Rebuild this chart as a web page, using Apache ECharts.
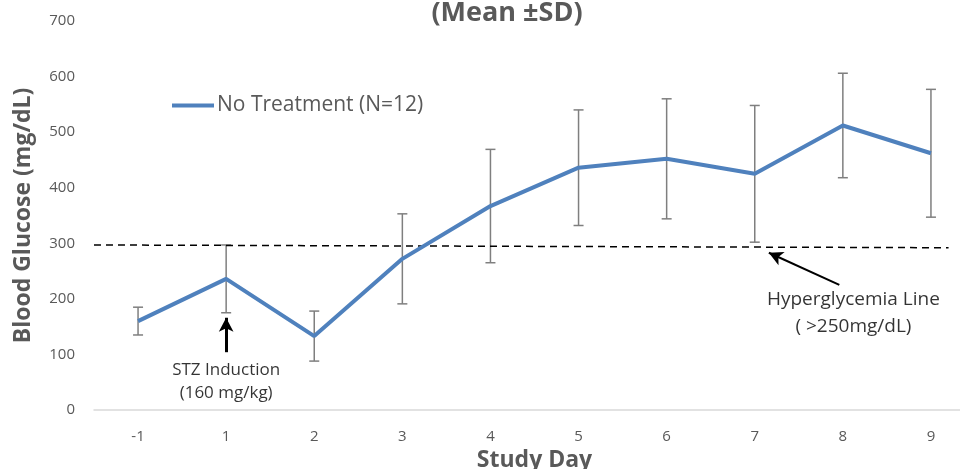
<!DOCTYPE html>
<html>
<head>
<meta charset="utf-8">
<script src="https://cdn.jsdelivr.net/npm/echarts@6/dist/echarts.min.js"></script>
<style>
  html, body { margin: 0; padding: 0; background: #fff; }
  #main { width: 960px; height: 469px; }
</style>
</head>
<body>
<div id="main"></div>
<script>
var dom = document.getElementById('main');
var myChart = echarts.init(dom);

// study days and blood glucose (mean, SD)
var days = ['-1', '1', '2', '3', '4', '5', '6', '7', '8', '9'];
var meanGlucose = [160, 236, 133, 272, 367, 436, 452, 425, 512, 462];
var sdGlucose = [25, 61, 45, 81, 102, 104, 108, 123, 94, 115];

// hyperglycemia reference line (x in category index units)
var threshX = [-0.5, 9.2];
var threshY = [297, 292];

// annotation arrows: [fromX, fromY, toX, toY]
var stzArrow = [1, 104, 1, 166];
var hyperArrow = [7.96, 225, 7.16, 283];
// annotation texts: [x, y]
var stzTextPos = [1, 51];
var hyperTextPos = [8.12, 174];

var fontText = '"Open Sans", sans-serif';

var errData = days.map(function (d, i) {
    return [i, meanGlucose[i] - sdGlucose[i], meanGlucose[i] + sdGlucose[i]];
});

option = {
    animation: false,
    title: {
        text: '(Mean \u00b1SD)',
        left: 502,
        top: -5,
        textAlign: 'center',
        textStyle: {
            fontFamily: fontText,
            fontWeight: 'bold',
            fontSize: 27,
            color: '#595959'
        }
    },
    legend: {
        data: ['No Treatment (N=12)'],
        left: 167,
        top: 90,
        icon: 'rect',
        itemWidth: 42,
        itemHeight: 4,
        itemGap: 3,
        textStyle: {
            fontFamily: fontText,
            fontSize: 21,
            color: '#595959',
            padding: [0, 0, 0, -2]
        }
    },
    grid: {
        left: 94,
        width: 881,
        top: 21,
        height: 389,
        outerBoundsMode: 'none'
    },
    xAxis: [{
        type: 'category',
        data: days,
        boundaryGap: true,
        name: 'Study Day',
        nameLocation: 'middle',
        nameGap: 32,
        nameTextStyle: {
            fontFamily: fontText,
            fontWeight: 'bold',
            fontSize: 23,
            color: '#595959'
        },
        axisLine: { lineStyle: { color: '#d9d9d9', width: 1.5 } },
        axisTick: { show: false },
        axisLabel: {
            margin: 19,
            fontFamily: fontText,
            fontSize: 15,
            color: '#595959'
        }
    }, {
        type: 'value',
        min: -0.5,
        max: 9.5,
        show: false
    }],
    yAxis: {
        type: 'value',
        min: 0,
        max: 700,
        interval: 100,
        name: 'Blood Glucose (mg/dL)',
        nameLocation: 'middle',
        nameGap: 59,
        nameTextStyle: {
            fontFamily: fontText,
            fontWeight: 'bold',
            fontSize: 23,
            color: '#595959'
        },
        axisLine: { show: false },
        axisTick: { show: false },
        splitLine: { show: false },
        axisLabel: {
            margin: 19,
            fontFamily: fontText,
            fontSize: 15,
            color: '#595959'
        }
    },
    series: [
        {
            name: 'SD',
            type: 'custom',
            xAxisIndex: 0,
            z: 1,
            data: errData,
            renderItem: function (params, api) {
                var x = api.value(0);
                var lo = api.coord([x, api.value(1)]);
                var hi = api.coord([x, api.value(2)]);
                var cap = 5;
                var style = { stroke: '#7f7f7f', lineWidth: 1.5 };
                return {
                    type: 'group',
                    children: [
                        { type: 'line', shape: { x1: lo[0], y1: lo[1], x2: hi[0], y2: hi[1] }, style: style },
                        { type: 'line', shape: { x1: lo[0] - cap, y1: lo[1], x2: lo[0] + cap, y2: lo[1] }, style: style },
                        { type: 'line', shape: { x1: hi[0] - cap, y1: hi[1], x2: hi[0] + cap, y2: hi[1] }, style: style }
                    ]
                };
            }
        },
        {
            name: 'No Treatment (N=12)',
            type: 'line',
            xAxisIndex: 0,
            z: 3,
            data: meanGlucose,
            showSymbol: false,
            symbol: 'none',
            itemStyle: { color: '#4f81bd' },
            lineStyle: { color: '#4f81bd', width: 4 }
        },
        {
            name: 'Hyperglycemia',
            type: 'line',
            xAxisIndex: 1,
            z: 2,
            data: threshX.map(function (x, i) { return [x, threshY[i]]; }),
            symbol: 'none',
            lineStyle: { color: '#000', width: 1.5, type: [7, 5] },
            markLine: {
                silent: true,
                symbol: ['none', 'arrow'],
                symbolSize: [11, 14],
                label: { show: false },
                data: [
                    [
                        { coord: [stzArrow[0], stzArrow[1]], lineStyle: { color: '#000', width: 3, type: 'solid' } },
                        { coord: [stzArrow[2], stzArrow[3]] }
                    ],
                    [
                        { coord: [hyperArrow[0], hyperArrow[1]], lineStyle: { color: '#000', width: 2, type: 'solid' } },
                        { coord: [hyperArrow[2], hyperArrow[3]] }
                    ]
                ]
            }
        },
        {
            name: 'notes',
            type: 'scatter',
            xAxisIndex: 1,
            symbolSize: 0,
            silent: true,
            data: [
                {
                    name: 'STZ Induction\n(160 mg/kg)',
                    value: stzTextPos,
                    label: { fontSize: 17, lineHeight: 23 }
                },
                {
                    name: 'Hyperglycemia Line\n( >250mg/dL)',
                    value: hyperTextPos,
                    label: { fontSize: 19, lineHeight: 27 }
                }
            ],
            label: {
                show: true,
                position: 'inside',
                formatter: '{b}',
                fontFamily: fontText,
                color: '#000',
                align: 'center'
            }
        }
    ]
};

myChart.setOption(option, true);

window.addEventListener('resize', function () {
    myChart.resize();
});
</script>
</body>
</html>
